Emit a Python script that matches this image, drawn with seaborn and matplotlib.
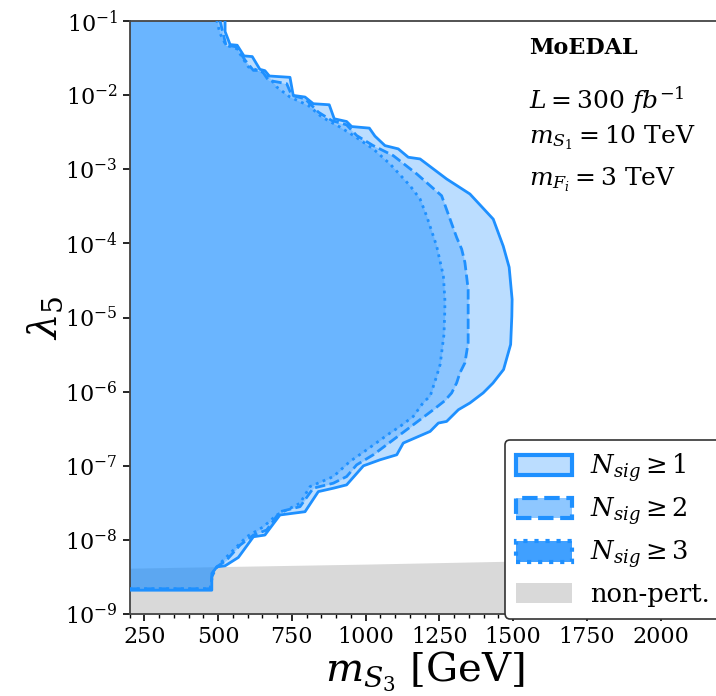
import numpy as np
import matplotlib
matplotlib.use("Agg")
import matplotlib.pyplot as plt
from matplotlib.patches import Patch
from matplotlib.colors import to_rgba
import seaborn as sns

# ---------------- data ----------------
# N_sig >= 1 boundary: m_S3 [GeV] and log10(lambda_5)
m_n1 = [524, 524, 541, 565, 588, 616, 642, 659, 674, 744, 755, 795, 823, 877, 894,
        936, 953, 1013, 1032, 1066, 1111, 1145, 1185, 1275, 1354, 1433, 1467, 1487,
        1497, 1496, 1492, 1468, 1432, 1399, 1354, 1315, 1275, 1247, 1219, 1140, 1128,
        1106, 1049, 993, 936, 891, 840, 795, 710, 659, 620, 569, 524, 496, 479, 479]
l_n1 = [-1.0, -1.142, -1.318, -1.327, -1.471, -1.480, -1.652, -1.670, -1.742, -1.760,
        -2.004, -2.026, -2.116, -2.130, -2.319, -2.356, -2.424, -2.445, -2.553, -2.681,
        -2.725, -2.838, -2.861, -3.131, -3.334, -3.673, -4.038, -4.322, -4.755, -4.985,
        -5.364, -5.702, -5.885, -6.017, -6.153, -6.244, -6.402, -6.424, -6.537, -6.673,
        -6.694, -6.852, -6.920, -7.001, -7.258, -7.303, -7.349, -7.620, -7.664, -7.935,
        -7.958, -8.237, -8.350, -8.364, -8.453, -8.679]

# N_sig >= 2 boundary
m_n2 = [507, 520, 527, 563, 592, 620, 648, 671, 733, 750, 795, 840, 885, 936, 970,
        1026, 1094, 1174, 1258, 1309, 1326, 1337, 1348, 1348, 1348, 1337, 1320, 1309,
        1292, 1269, 1230, 1162, 1094, 1026, 970, 936, 891, 823, 778, 710, 665, 620,
        575, 529, 496, 479, 476]
l_n2 = [-1.0, -1.214, -1.327, -1.349, -1.530, -1.666, -1.666, -1.801, -1.846, -2.004,
        -2.049, -2.229, -2.342, -2.401, -2.545, -2.681, -2.816, -3.064, -3.357, -3.920,
        -4.078, -4.258, -4.620, -5.026, -5.341, -5.612, -5.747, -5.882, -6.018, -6.122,
        -6.244, -6.447, -6.650, -6.853, -6.988, -7.146, -7.235, -7.303, -7.552, -7.620,
        -7.867, -7.935, -8.070, -8.273, -8.364, -8.499, -8.660]

# N_sig >= 3 boundary
m_n3 = [496, 507, 527, 563, 603, 665, 699, 744, 806, 852, 914, 959, 1026, 1083, 1151,
        1185, 1207, 1241, 1264, 1269, 1269, 1266, 1253, 1241, 1219, 1198, 1162, 1117,
        1083, 1004, 947, 891, 812, 778, 699, 654, 597, 552, 507, 484, 473]
l_n3 = [-1.0, -1.169, -1.327, -1.372, -1.620, -1.710, -1.890, -2.026, -2.139, -2.296,
        -2.432, -2.545, -2.725, -2.928, -3.222, -3.402, -3.628, -4.034, -4.440, -4.755,
        -4.890, -5.229, -5.635, -5.793, -6.064, -6.135, -6.334, -6.470, -6.559, -6.785,
        -6.943, -7.146, -7.281, -7.506, -7.664, -7.823, -7.958, -8.138, -8.318, -8.432,
        -8.660]

# non-perturbative region upper edge
m_np = [200, 500, 1000, 1500, 2200]
l_np = [-8.382, -8.361, -8.327, -8.287, -8.226]

labels = [r"$N_{sig} \geq 1$", r"$N_{sig} \geq 2$", r"$N_{sig} \geq 3$", "non-pert."]
info_lines = [r"$L = 300\ fb^{-1}$", r"$m_{S_1} = 10$ TeV", r"$m_{F_i} = 3$ TeV"]
x_ticks = [250, 500, 750, 1000, 1250, 1500, 1750, 2000]

# ---------------- style ----------------
sns.set_style("ticks")
plt.rcParams["font.family"] = ["DejaVu Serif"]
plt.rcParams["mathtext.fontset"] = "dejavuserif"
plt.rcParams["text.color"] = "black"
plt.rcParams["axes.labelcolor"] = "black"
plt.rcParams["xtick.color"] = "black"
plt.rcParams["ytick.color"] = "black"

blue = "#1e90ff"
gray = "#d9d9d9"

fig = plt.figure(figsize=(7.16, 6.96), dpi=100)
ax = fig.add_axes([129.5 / 716, 82 / 696, 590 / 716, 593 / 696])

# non-pert region
ax.fill_between(m_np, 1e-10, 10 ** np.array(l_np), color=gray, lw=0, zorder=1)

styles = ["-", "--", ":"]
for m, l, ls in zip([m_n1, m_n2, m_n3], [l_n1, l_n2, l_n3], styles):
    lam = 10 ** np.array(l)
    ax.fill_betweenx(lam, 100, m, color=blue, alpha=0.3, lw=0, zorder=2)
    xs = [100] + list(m[::-1])
    ys = [lam[-1]] + list(lam[::-1])
    sns.lineplot(x=xs, y=ys, sort=False, estimator=None, ax=ax, color=blue,
                 lw=2, linestyle=ls, zorder=3)

ax.set_yscale("log")
ax.set_xlim(200, 2200)
ax.set_ylim(1e-9, 1e-1)
ax.set_xticks(x_ticks)
ax.set_xticks(np.arange(200, 2201, 50), minor=True)
ax.set_yticks([10.0 ** k for k in range(-9, 0)])
ax.yaxis.set_minor_locator(matplotlib.ticker.NullLocator())
ax.tick_params(axis="both", which="major", labelsize=16, length=5, width=1.2,
               direction="out", colors="black")
ax.tick_params(axis="x", which="minor", length=3, width=1.0, colors="black")
for s in ["left", "bottom", "top"]:
    ax.spines[s].set_color("#444444")
    ax.spines[s].set_linewidth(1.3)
ax.spines["right"].set_visible(False)

ax.set_xlabel(r"$m_{S_3}$ [GeV]", fontsize=29, labelpad=1)
ax.set_ylabel(r"$\lambda_5$", fontsize=29, labelpad=0)

ax.text(0.677, 0.955, "MoEDAL", transform=ax.transAxes, fontsize=16,
        fontweight="bold", va="center", ha="left")
for txt, yy in zip(info_lines, [0.867, 0.803, 0.732]):
    ax.text(0.677, yy, txt, transform=ax.transAxes, fontsize=18, va="center", ha="left")

handles = [
    Patch(facecolor=to_rgba(blue, 0.3), edgecolor=blue, lw=3, linestyle="-"),
    Patch(facecolor=to_rgba(blue, 0.5), edgecolor=blue, lw=3, linestyle="--"),
    Patch(facecolor=to_rgba(blue, 0.85), edgecolor=blue, lw=3, linestyle=":"),
    Patch(facecolor=gray, edgecolor="none"),
]
leg = ax.legend(handles, labels, loc="upper left", bbox_to_anchor=(0.636, 0.294),
                borderaxespad=0, fontsize=18.5, handlelength=2.15, handleheight=0.85,
                handletextpad=0.72, labelspacing=0.45, framealpha=1, fancybox=True,
                borderpad=0.45)
leg.get_frame().set_edgecolor("#333333")
leg.get_frame().set_linewidth(1.2)
leg.set_zorder(10)

fig.savefig("out.png", dpi=100)
